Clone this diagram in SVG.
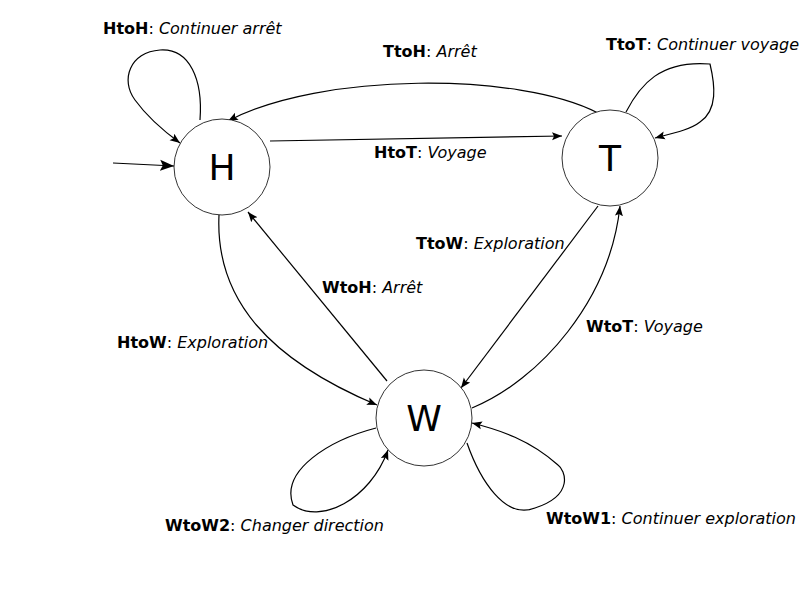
<svg xmlns="http://www.w3.org/2000/svg" width="800" height="600" viewBox="0 0 800 600">
<style>
.node{fill:#fff;stroke:#000;stroke-width:0.8}
.nl{font-family:"DejaVu Sans",sans-serif;font-size:36px;text-anchor:middle;fill:#000}
.e{fill:none;stroke:#000;stroke-width:1.2;marker-end:url(#ah)}
.lb{font-family:"DejaVu Sans",sans-serif;font-size:16px;fill:#000}
.b{font-weight:bold}
.i{font-style:italic}
</style>
<defs>
<marker id="ah" viewBox="0 0 10 10" refX="10" refY="5" markerWidth="10" markerHeight="10" markerUnits="userSpaceOnUse" orient="auto">
<path d="M0,1 L10,5 L0,9 L2,5 z" fill="#000"/>
</marker>
<marker id="ah2" viewBox="0 0 10 10" refX="10" refY="5" markerWidth="14" markerHeight="14" markerUnits="userSpaceOnUse" orient="auto">
<path d="M0,1 L10,5 L0,9 L2,5 z" fill="#000"/>
</marker>
</defs>
<rect width="800" height="600" fill="#fff"/>
<g id="edges">
<path class="e" style="marker-end:url(#ah2)" d="M113,163 L174,166"/>
<path class="e" d="M200,120 C203,80 190,48 160,50 C130,52 120,80 135,100 C148,118 165,132 180,143"/>
<path class="e" d="M598,113 C520,72 320,72 228,121"/>
<path class="e" d="M270,141 L562,136"/>
<path class="e" d="M626,112 C640,85 660,60 710,64 C715,85 718,110 700,122 C690,130 670,134 655,138"/>
<path class="e" d="M598,206 L461,388"/>
<path class="e" d="M472,408 C540,380 610,300 620,206"/>
<path class="e" d="M387,381 L248,212"/>
<path class="e" d="M219,215 C215,300 270,360 377,405"/>
<path class="e" d="M376,428 C330,440 280,470 293,505 C320,525 370,500 388,450"/>
<path class="e" d="M467,443 C480,480 505,520 535,508 C575,495 565,470 558,465 C530,440 500,430 472,423"/>
</g>
<g id="node-H"><circle class="node" cx="222" cy="167" r="48"/><text class="nl" x="222" y="180">H</text></g>
<g id="node-T"><circle class="node" cx="610" cy="158" r="48"/><text class="nl" x="610" y="171">T</text></g>
<g id="node-W"><circle class="node" cx="424" cy="418" r="48"/><text class="nl" x="424" y="431">W</text></g>
<g id="labels">
<text class="lb" x="103" y="34"><tspan class="b">HtoH</tspan>: <tspan class="i">Continuer arrêt</tspan></text>
<text class="lb" x="383" y="57"><tspan class="b">TtoH</tspan>: <tspan class="i">Arrêt</tspan></text>
<text class="lb" x="606" y="50"><tspan class="b">TtoT</tspan>: <tspan class="i">Continuer voyage</tspan></text>
<text class="lb" x="374" y="158"><tspan class="b">HtoT</tspan>: <tspan class="i">Voyage</tspan></text>
<text class="lb" x="416" y="249"><tspan class="b">TtoW</tspan>: <tspan class="i">Exploration</tspan></text>
<text class="lb" x="322" y="293"><tspan class="b">WtoH</tspan>: <tspan class="i">Arrêt</tspan></text>
<text class="lb" x="586" y="332"><tspan class="b">WtoT</tspan>: <tspan class="i">Voyage</tspan></text>
<text class="lb" x="117" y="348"><tspan class="b">HtoW</tspan>: <tspan class="i">Exploration</tspan></text>
<text class="lb" x="165" y="531"><tspan class="b">WtoW2</tspan>: <tspan class="i">Changer direction</tspan></text>
<text class="lb" x="546" y="524"><tspan class="b">WtoW1</tspan>: <tspan class="i">Continuer exploration</tspan></text>
</g>
</svg>
